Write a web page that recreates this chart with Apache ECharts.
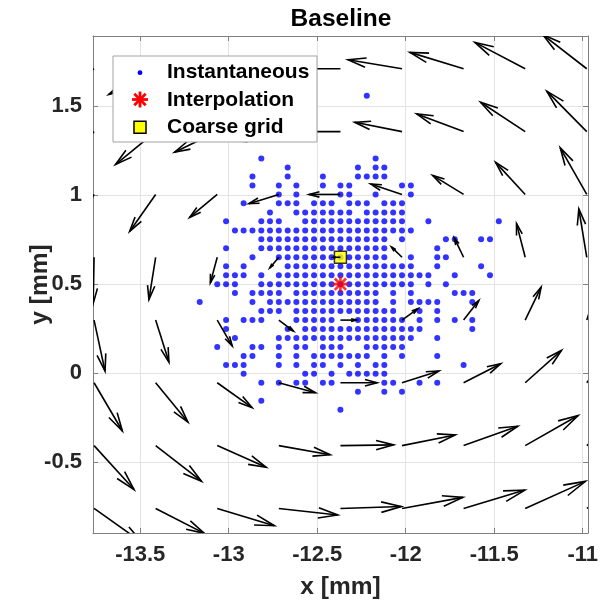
<!DOCTYPE html>
<html>
<head>
<meta charset="utf-8">
<script src="https://cdn.jsdelivr.net/npm/echarts@6/dist/echarts.min.js"></script>
<style>
html, body { margin: 0; padding: 0; background: #ffffff; }
#chart { width: 601px; height: 605px; }
</style>
</head>
<body>
<div id="chart"></div>
<script>
// ---------------- data ----------------
const titleText = 'Baseline';
const xLabel = 'x [mm]';
const yLabel = 'y [mm]';
const legendLabels = ['Instantaneous', 'Interpolation', 'Coarse grid'];

// measurement-grid column positions (mm)
const gridX = [-13.164, -13.115, -13.065, -13.015, -12.965, -12.916, -12.866, -12.816, -12.767, -12.717,
               -12.667, -12.618, -12.568, -12.518, -12.468, -12.419, -12.369, -12.319, -12.270, -12.220,
               -12.170, -12.121, -12.071, -12.021, -11.971, -11.922, -11.872, -11.822, -11.773, -11.723,
               -11.673, -11.624, -11.574, -11.524, -11.474];
// measurement-grid row positions (mm), top to bottom
const gridY = [1.557, 1.507, 1.457, 1.406, 1.356, 1.305, 1.255, 1.205, 1.154, 1.104,
               1.053, 1.003, 0.953, 0.902, 0.852, 0.801, 0.751, 0.701, 0.650, 0.600,
               0.549, 0.499, 0.449, 0.398, 0.348, 0.297, 0.247, 0.197, 0.146, 0.096,
               0.045, -0.005, -0.055, -0.106, -0.156, -0.207];
// '#' = instantaneous vortex-centre sample present at that grid node
const dotMask = [
  '..... ..... ..... ....# ..... ..... .....',
  '..... ..... ..... ..... ..... ..... .....',
  '..... ..... ..... ..... ..... ..... .....',
  '..... ..... ..... ..... ..... ..... .....',
  '..... ..... ..... ..... ..... ..... .....',
  '..... ..... ..... ..... ..... ..... .....',
  '..... ..... ..... ..... ..... ..... .....',
  '..... ..#.. ..... ..... #.... ..... .....',
  '..... ..... #.... ...#. ##... ..... .....',
  '..... .#... #...# ...## ##... ..... .....',
  '..... .#..# .#..# .##.. ...## ..... .....',
  '..... ....# .#... .##.. #...# ..... .....',
  '..... #...# ##.## #.### .###. ..... .....',
  '..... ...#. .#### ###.# ####. ..... .....',
  '...#. ..### ..### ##### ####. .#... ....#',
  '....# ##### ##### ##### ##### ..... .....',
  '..... ..### ##### ##### ##.#. ...## ..##.',
  '...#. ..### ##### ##### ##... ..#.. .....',
  '..... .#..# ##### ##### ##..# ..##. .....',
  '...#. #.... ##### ##### ##### ..#.. ..#..',
  '...## #.#.# ##### ##### ##### ##..# ...#.',
  '..### ..### ##### ##### ##### .#.#. .....',
  '....# .#### .#### ##### #.#.# ....# ##...',
  '#.... .#.## ##### ##### #.#.# ###.. .#...',
  '..... ..### .#### ##### ###.. #.#.. .....',
  '...#. ###.. .#### #..## ####. #.#.# .#...',
  '...#. ..... #.### ##### ##### #.... .#...',
  '....# ....# ##### ##### ##### ..#.. .....',
  '..#.. .##.# .##.# ##..# ####. ..... .....',
  '..... ##..# .#.## ##### .#.#. ..#.. .....',
  '...## #...# .#.## .#.#. ##... ..... #....',
  '..... #.... ..##. #.### ##... ..... .....',
  '..... ..#.# .##.# #.... .##.. #.#.. .....',
  '..... ..... ..... ...#. .#.#. ..... .....',
  '..... ..#.. ..... ..... ..... ..... .....',
  '..... ..... ..... .#... ..... ..... .....'
];

const interpPoint = [-12.369, 0.499];
const coarsePoint = [-12.369, 0.650];

// coarse-grid velocity field (quiver): tail positions and drawn vector components (mm)
const quiverX = [-13.761, -13.413, -13.065, -12.717, -12.369, -12.021, -11.673, -11.325, -10.977];
const quiverY = [1.709, 1.356, 1.003, 0.650, 0.297, -0.055, -0.408, -0.761];
const quiverU = [
  [-0.270, -0.265, -0.330, -0.360, -0.330, -0.305, -0.303, -0.284, -0.248],
  [-0.220, -0.227, -0.241, -0.270, -0.270, -0.267, -0.265, -0.252, -0.226],
  [-0.140, -0.147, -0.156, -0.169, -0.177, -0.177, -0.175, -0.167, -0.150],
  [-0.005, -0.038, -0.039, -0.051, -0.040, -0.060, -0.053, -0.049, -0.045],
  [ 0.062,  0.075,  0.085,  0.083,  0.090,  0.090,  0.086,  0.090,  0.090],
  [ 0.160,  0.182,  0.197,  0.207,  0.207,  0.209,  0.210,  0.205,  0.200],
  [ 0.226,  0.259,  0.276,  0.290,  0.301,  0.301,  0.306,  0.299,  0.280],
  [ 0.270,  0.275,  0.323,  0.333,  0.344,  0.344,  0.346,  0.340,  0.320]
];
const quiverV = [
  [-0.170, -0.145, -0.100, -0.040,  0.000,  0.051,  0.092,  0.148,  0.191],
  [-0.220, -0.185, -0.116, -0.050,  0.000,  0.052,  0.099,  0.165,  0.227],
  [-0.260, -0.208, -0.129, -0.052,  0.000,  0.058,  0.107,  0.180,  0.262],
  [-0.260, -0.238, -0.144, -0.060,  0.000,  0.058,  0.109,  0.189,  0.272],
  [-0.287, -0.236, -0.146, -0.062,  0.000,  0.064,  0.110,  0.185,  0.270],
  [-0.271, -0.221, -0.140, -0.056,  0.000,  0.066,  0.107,  0.182,  0.260],
  [-0.247, -0.200, -0.122, -0.051,  0.004,  0.060,  0.109,  0.169,  0.220],
  [-0.190, -0.140, -0.097, -0.037,  0.011,  0.062,  0.103,  0.152,  0.200]
];

// ---------------- build series data ----------------
const dots = [];
dotMask.forEach(function (row, i) {
  row.replace(/ /g, '').split('').forEach(function (ch, j) {
    if (ch === '#') dots.push([gridX[j], gridY[i]]);
  });
});

const quiverData = [];
quiverY.forEach(function (y, i) {
  quiverX.forEach(function (x, j) {
    quiverData.push([x, y, quiverU[i][j], quiverV[i][j]]);
  });
});

// ---------------- chart ----------------
const FONT = '"Liberation Sans", Arial, Helvetica, sans-serif';
const AX = '#7f7f7f';
const chart = echarts.init(document.getElementById('chart'), null, { renderer: 'canvas' });

const xCommon = { type: 'value', min: -13.767, max: -10.970, minInterval: 0.5, maxInterval: 0.5, splitNumber: 5 };
const yCommon = { type: 'value', min: -0.899, max: 1.893, minInterval: 0.5, maxInterval: 0.5, splitNumber: 5 };

const asteriskPath = 'path://M0,-10L0,10M-10,0L10,0M-7.07,-7.07L7.07,7.07M-7.07,7.07L7.07,-7.07';

const lgX = 113, lgY = 56;

chart.setOption({
  animation: false,
  backgroundColor: '#ffffff',
  title: {
    text: titleText,
    left: 341,
    top: 7,
    textAlign: 'center',
    padding: 0,
    textStyle: { fontFamily: FONT, fontSize: 24.5, fontWeight: 'bold', color: '#000000' }
  },
  grid: { left: 93, right: 12, top: 36, bottom: 72, containLabel: false },
  xAxis: [
    Object.assign({}, xCommon, {
      position: 'bottom',
      name: xLabel,
      nameLocation: 'middle',
      nameGap: 42,
      nameTextStyle: { fontFamily: FONT, fontSize: 24.5, fontWeight: 'bold', color: '#262626' },
      axisLine: { show: true, onZero: false, lineStyle: { color: AX, width: 1 } },
      axisTick: { show: true, inside: true, length: 5, lineStyle: { color: AX } },
      axisLabel: { showMinLabel: false, showMaxLabel: false, margin: 11,
        fontFamily: FONT, fontSize: 22, fontWeight: 'bold', color: '#262626' },
      splitLine: { show: true, lineStyle: { color: '#e4e4e4', width: 1 } }
    }),
    Object.assign({}, xCommon, {
      position: 'top',
      axisLine: { show: true, onZero: false, lineStyle: { color: AX, width: 1 } },
      axisTick: { show: true, inside: true, length: 5, lineStyle: { color: AX } },
      axisLabel: { show: false },
      splitLine: { show: false }
    })
  ],
  yAxis: [
    Object.assign({}, yCommon, {
      position: 'left',
      name: yLabel,
      nameLocation: 'middle',
      nameRotate: 90,
      nameGap: 40,
      nameMoveOverlap: false,
      nameTextStyle: { fontFamily: FONT, fontSize: 24.5, fontWeight: 'bold', color: '#262626' },
      axisLine: { show: true, onZero: false, lineStyle: { color: AX, width: 1 } },
      axisTick: { show: true, inside: true, length: 5, lineStyle: { color: AX } },
      axisLabel: { showMinLabel: false, showMaxLabel: false, margin: 11,
        fontFamily: FONT, fontSize: 22, fontWeight: 'bold', color: '#262626' },
      splitLine: { show: true, lineStyle: { color: '#e4e4e4', width: 1 } }
    }),
    Object.assign({}, yCommon, {
      position: 'right',
      axisLine: { show: true, onZero: false, lineStyle: { color: AX, width: 1 } },
      axisTick: { show: true, inside: true, length: 5, lineStyle: { color: AX } },
      axisLabel: { show: false },
      splitLine: { show: false }
    })
  ],
  series: [
    {
      name: legendLabels[0],
      type: 'scatter',
      data: dots,
      symbol: 'circle',
      symbolSize: 6,
      itemStyle: { color: '#0000ff' },
      z: 3,
      silent: true
    },
    {
      name: legendLabels[2],
      type: 'scatter',
      data: [coarsePoint],
      symbol: 'rect',
      symbolSize: 12,
      itemStyle: { color: '#ffff00', borderColor: '#000000', borderWidth: 1.5 },
      z: 4,
      silent: true
    },
    {
      name: 'quiver',
      type: 'custom',
      data: quiverData,
      encode: { x: 0, y: 1 },
      z: 5,
      silent: true,
      renderItem: function (params, api) {
        const x = api.value(0), y = api.value(1), u = api.value(2), v = api.value(3);
        const a = 0.33, b = 0.26;
        const tail = api.coord([x, y]);
        const tip = api.coord([x + u, y + v]);
        const h1 = api.coord([x + u - a * (u + b * v), y + v - a * (v - b * u)]);
        const h2 = api.coord([x + u - a * (u - b * v), y + v - a * (v + b * u)]);
        const cs = params.coordSys;
        return {
          type: 'group',
          clipPath: { type: 'rect', shape: { x: cs.x, y: cs.y, width: cs.width, height: cs.height } },
          children: [
            { type: 'line', shape: { x1: tail[0], y1: tail[1], x2: tip[0], y2: tip[1] },
              style: { stroke: '#000000', lineWidth: 1.6, fill: null } },
            { type: 'polyline', shape: { points: [h1, tip, h2] },
              style: { stroke: '#000000', lineWidth: 1.6, fill: null } }
          ]
        };
      }
    },
    {
      name: legendLabels[1],
      type: 'scatter',
      data: [interpPoint],
      symbol: asteriskPath,
      symbolSize: 16,
      itemStyle: { color: 'rgba(0,0,0,0)', borderColor: '#ff0000', borderWidth: 2.6 },
      z: 6,
      silent: true
    }
  ],
  graphic: [
    { type: 'rect', z: 100, shape: { x: lgX, y: lgY, width: 204, height: 86 },
      style: { fill: '#ffffff', stroke: '#a3a3a3', lineWidth: 1 } },
    { type: 'circle', z: 101, shape: { cx: 140, cy: 72.7, r: 2.4 }, style: { fill: '#0000ff' } },
    { type: 'group', z: 101, x: 140, y: 99.5, children: [
      { type: 'line', z: 101, shape: { x1: 0, y1: -8, x2: 0, y2: 8 }, style: { stroke: '#ff0000', lineWidth: 2.8 } },
      { type: 'line', z: 101, shape: { x1: -8, y1: 0, x2: 8, y2: 0 }, style: { stroke: '#ff0000', lineWidth: 2.8 } },
      { type: 'line', z: 101, shape: { x1: -5.7, y1: -5.7, x2: 5.7, y2: 5.7 }, style: { stroke: '#ff0000', lineWidth: 2.8 } },
      { type: 'line', z: 101, shape: { x1: -5.7, y1: 5.7, x2: 5.7, y2: -5.7 }, style: { stroke: '#ff0000', lineWidth: 2.8 } }
    ] },
    { type: 'rect', z: 101, shape: { x: 134, y: 121.3, width: 12, height: 12 },
      style: { fill: '#ffff00', stroke: '#000000', lineWidth: 1.5 } },
    { type: 'text', z: 101, x: 167, y: 72.7, style: { text: legendLabels[0], fill: '#000000',
      font: 'bold 21px ' + FONT, verticalAlign: 'middle', align: 'left' } },
    { type: 'text', z: 101, x: 167, y: 99.8, style: { text: legendLabels[1], fill: '#000000',
      font: 'bold 21px ' + FONT, verticalAlign: 'middle', align: 'left' } },
    { type: 'text', z: 101, x: 167, y: 127.3, style: { text: legendLabels[2], fill: '#000000',
      font: 'bold 21px ' + FONT, verticalAlign: 'middle', align: 'left' } }
  ]
});
</script>
</body>
</html>
